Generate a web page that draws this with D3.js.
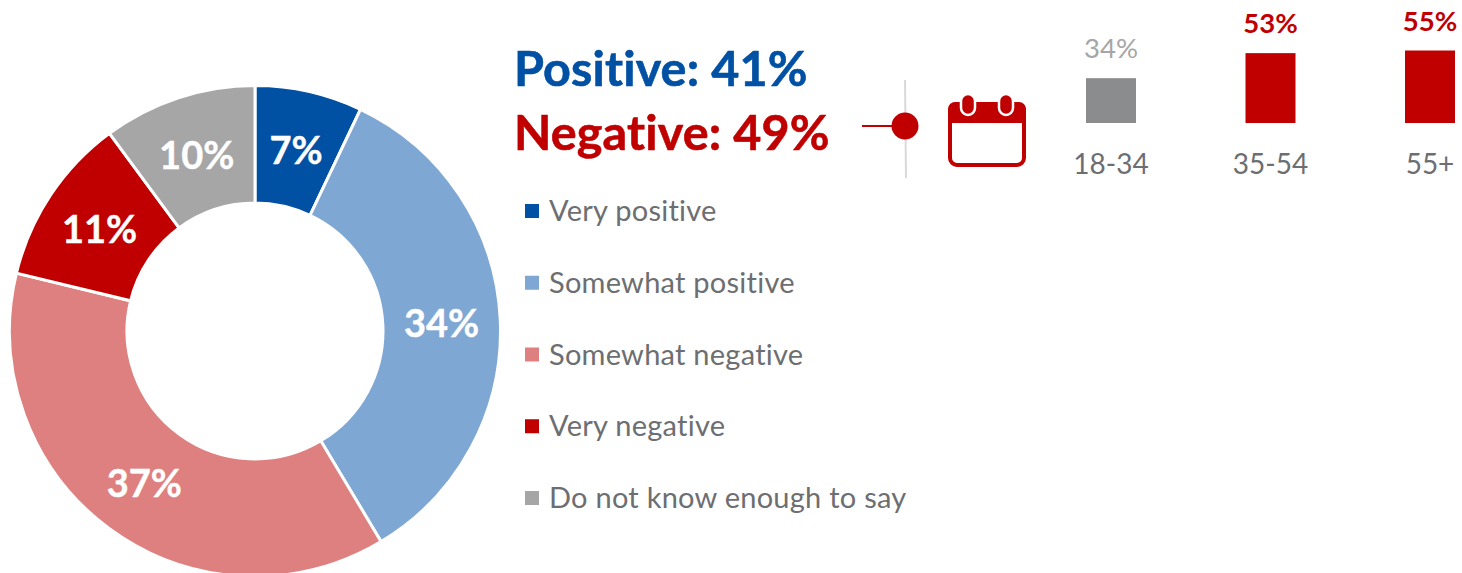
<!DOCTYPE html>
<html>
<head>
<meta charset="utf-8">
<script src="https://cdn.jsdelivr.net/npm/d3@7"></script>
<style>
  html, body { margin: 0; padding: 0; background: #fff; }
  text { font-family: Lato, "Open Sans", sans-serif; font-variant-ligatures: none; }
</style>
</head>
<body>
<div id="chart"></div>
<script>
// donut data
const categories = ["Very positive", "Somewhat positive", "Somewhat negative", "Very negative", "Do not know enough to say"];
const shares = [7, 34, 37, 11, 10];
const sliceColors = ["#0050a4", "#7fa7d3", "#df8080", "#c00000", "#a6a6a6"];

// summary lines
const summaryLabels = ["Positive: 41%", "Negative: 49%"];
const summaryColors = ["#0050a4", "#c00000"];

// small age bars
const ageGroups = ["18-34", "35-54", "55+"];
const ageValues = [34, 53, 55];
const ageBarColors = ["#8a8c8e", "#c00000", "#c00000"];
const ageLabelColors = ["#a6a6a6", "#c00000", "#c00000"];
const ageLabelWeights = ["normal", "bold", "bold"];

const width = 1462, height = 573;
const svg = d3.select("#chart").append("svg")
  .attr("width", width)
  .attr("height", height)
  .style("display", "block");

// Donut
const pie = d3.pie().sort(null).value(d => d)(shares);
const arc = d3.arc().innerRadius(128).outerRadius(245.5);
const donut = svg.append("g").attr("transform", "translate(255,331)");
donut.selectAll("path")
  .data(pie)
  .join("path")
    .attr("d", arc)
    .attr("fill", (d, i) => sliceColors[i])
    .attr("stroke", "#fff")
    .attr("stroke-width", 3);
donut.selectAll("text")
  .data(pie)
  .join("text")
    .attr("transform", d => `translate(${arc.centroid(d)})`)
    .attr("text-anchor", "middle")
    .attr("dy", "0.4em")
    .attr("fill", "#fff")
    .attr("font-size", 38)
    .attr("font-weight", "bold")
    .attr("stroke", "#fff")
    .attr("stroke-width", 0.4)
    .text(d => d.data + "%");

// Positive / negative summary
svg.selectAll(".summary")
  .data(summaryLabels)
  .join("text")
    .attr("class", "summary")
    .attr("x", 514)
    .attr("y", (d, i) => 86 + i * 64)
    .attr("fill", (d, i) => summaryColors[i])
    .attr("stroke", (d, i) => summaryColors[i])
    .attr("stroke-width", 0.6)
    .attr("font-size", 48.5)
    .attr("letter-spacing", 0.15)
    .attr("font-weight", "bold")
    .text(d => d);

// Legend
const legendY = d3.scalePoint().domain(categories).range([211, 498]);
const legend = svg.selectAll(".legend")
  .data(categories)
  .join("g")
    .attr("class", "legend")
    .attr("transform", d => `translate(525,${legendY(d)})`);
legend.append("rect")
  .attr("y", -7)
  .attr("width", 14)
  .attr("height", 14)
  .attr("fill", (d, i) => sliceColors[i]);
legend.append("text")
  .attr("x", 24)
  .attr("dy", "0.35em")
  .attr("fill", "#6d6e71")
  .attr("font-size", 29)
  .attr("letter-spacing", 0.25)
  .text(d => d);

// Connector and calendar icon
svg.append("line")
  .attr("x1", 905).attr("x2", 906).attr("y1", 80).attr("y2", 178)
  .attr("stroke", "#d9d9d9").attr("stroke-width", 2);
svg.append("line")
  .attr("x1", 862).attr("x2", 895).attr("y1", 126).attr("y2", 126)
  .attr("stroke", "#c00000").attr("stroke-width", 2);
svg.append("circle")
  .attr("cx", 905).attr("cy", 126).attr("r", 13.5)
  .attr("fill", "#c00000");

const icon = svg.append("g").attr("transform", "translate(948,94)");
icon.append("rect")
  .attr("x", 2).attr("y", 10).attr("width", 74).attr("height", 61).attr("rx", 7)
  .attr("fill", "#fff").attr("stroke", "#c00000").attr("stroke-width", 4);
icon.append("path")
  .attr("d", "M7 8H71a7 7 0 0 1 7 7V29H0V15a7 7 0 0 1 7-7Z")
  .attr("fill", "#c00000");
icon.selectAll(".ring")
  .data([20, 58])
  .join("rect")
    .attr("class", "ring")
    .attr("x", d => d - 7).attr("y", 0)
    .attr("width", 14).attr("height", 21).attr("rx", 7)
    .attr("fill", "#c00000").attr("stroke", "#fff").attr("stroke-width", 2.5);

// Age bars
const ageX = d3.scalePoint().domain(ageGroups).range([1111, 1430]);
const ageH = d3.scaleLinear().domain([0, 55]).range([0, 72.5]);
const ages = svg.selectAll(".age")
  .data(ageGroups)
  .join("g")
    .attr("class", "age")
    .attr("transform", d => `translate(${ageX(d)},0)`);
ages.append("rect")
  .attr("x", -25)
  .attr("width", 50)
  .attr("y", (d, i) => 123 - ageH(ageValues[i]))
  .attr("height", (d, i) => ageH(ageValues[i]))
  .attr("fill", (d, i) => ageBarColors[i]);
ages.append("text")
  .attr("text-anchor", "middle")
  .attr("y", (d, i) => 123 - ageH(ageValues[i]) - 20)
  .attr("fill", (d, i) => ageLabelColors[i])
  .attr("font-weight", (d, i) => ageLabelWeights[i])
  .attr("font-size", 27.5)
  .text((d, i) => ageValues[i] + "%");
ages.append("text")
  .attr("text-anchor", "middle")
  .attr("y", 174)
  .attr("fill", "#6d6e71")
  .attr("font-size", 28)
  .text(d => d);
</script>
</body>
</html>
